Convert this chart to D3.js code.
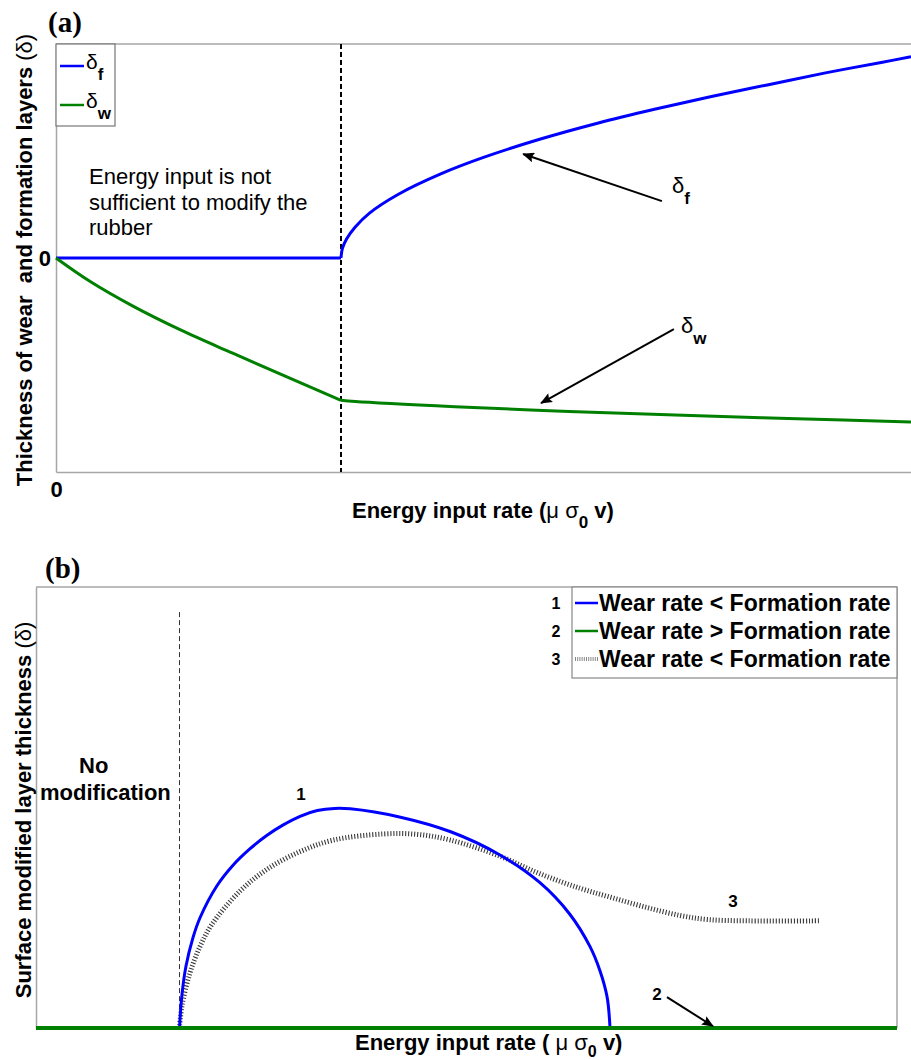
<!DOCTYPE html>
<html>
<head>
<meta charset="utf-8">
<script src="https://cdn.jsdelivr.net/npm/d3@7"></script>
<style>
  body { margin: 0; background: #fff; }
  text { font-family: Arial, "Liberation Sans", sans-serif; }
</style>
</head>
<body>
<div id="plot-container"></div>
<script>
// ---- data, panel (a) ----
const thresholdA = 1.0;
const flatX = [0, 1.0];
const flatY = [0, 0];
const formX = [1.0, 1.005, 1.02, 1.05, 1.1, 1.2, 1.35, 1.5, 1.7, 1.9, 2.1, 2.3, 2.5, 2.7, 2.9, 3.0];
const formY = [0, 0.045, 0.09, 0.145, 0.21, 0.297, 0.393, 0.47, 0.556, 0.63, 0.695, 0.755, 0.81, 0.865, 0.915, 0.94];
const wearX = [0, 0.12, 0.27, 0.435, 0.62, 0.8, 1.0];
const wearY = [0, -0.11, -0.225, -0.335, -0.445, -0.55, -0.665];
const wear2X = [1.0, 1.05, 1.4, 1.8, 2.2, 2.6, 3.0];
const wear2Y = [-0.665, -0.671, -0.695, -0.717, -0.735, -0.751, -0.766];

// ---- data, panel (b) ----
const thresholdB = 1.0;
const curve1X = [1.0, 1.017, 1.045, 1.094, 1.143, 1.26, 1.37, 1.49, 1.61, 1.72, 1.84, 1.96, 2.08, 2.19, 2.54, 2.89, 3.23, 3.51, 3.72, 3.86, 3.93, 3.98, 4.0];
const curve1Y = [0, 0.075, 0.14, 0.205, 0.25, 0.322, 0.368, 0.406, 0.437, 0.46, 0.48, 0.493, 0.498, 0.497, 0.478, 0.445, 0.393, 0.33, 0.258, 0.185, 0.13, 0.07, 0];
const curve2X = [0, 6];
const curve2Y = [0, 0];
const curve3X = [1.0, 1.017, 1.073, 1.143, 1.226, 1.42, 1.61, 1.84, 2.07, 2.42, 2.66, 2.89, 3.23, 3.51, 3.79, 4.02, 4.26, 4.49, 4.68, 4.96, 5.46];
const curve3Y = [0, 0.05, 0.125, 0.185, 0.235, 0.31, 0.36, 0.4, 0.426, 0.44, 0.439, 0.426, 0.39, 0.35, 0.317, 0.295, 0.273, 0.255, 0.246, 0.243, 0.243];
const legendB = ["Wear rate < Formation rate", "Wear rate > Formation rate", "Wear rate < Formation rate"];

const W = 911, H = 1060;
const BLUE = "#0000ff", GREEN = "#008000", FRAME = "#a6a6a6";
const SERIF = "'Times New Roman', 'Liberation Serif', serif";
const zip = (xs, ys) => xs.map((x, i) => [x, ys[i]]);

const svg = d3.select("#plot-container").append("svg")
  .attr("width", W).attr("height", H)
  .attr("viewBox", [0, 0, W, H]);

svg.append("defs").append("marker")
  .attr("id", "arrow")
  .attr("viewBox", "0 0 12 10")
  .attr("refX", 11).attr("refY", 5)
  .attr("markerWidth", 13).attr("markerHeight", 10)
  .attr("markerUnits", "userSpaceOnUse")
  .attr("orient", "auto")
  .append("path").attr("d", "M0,0 L12,5 L0,10 L2,5 Z").attr("fill", "#000");

// text with a bold subscript (delta_f, sigma_0 ...)
function subText(g, x, y, main, sub, size, subSize, weight) {
  const t = g.append("text").attr("x", x).attr("y", y)
    .attr("font-size", size).attr("font-weight", weight || "normal");
  t.append("tspan").text(main);
  t.append("tspan").attr("dy", size * 0.5).attr("font-size", subSize)
    .attr("font-weight", "bold").text(sub);
  return t;
}

const curve = d3.curveCatmullRom.alpha(0.5);

// =================== panel (a) ===================
const xa = d3.scaleLinear().domain([0, 3]).range([56, 911]);
const ya = d3.scaleLinear().domain([-1, 1]).range([472, 44]);
const ga = svg.append("g");

ga.append("line")
  .attr("x1", xa(0)).attr("x2", xa(3)).attr("y1", ya(1)).attr("y2", ya(1))
  .attr("stroke", FRAME).attr("stroke-width", 1.5);

const axLeftA = ga.append("g").attr("transform", `translate(${xa(0)},0)`)
  .call(d3.axisLeft(ya).tickValues([0]).tickSize(0).tickPadding(5).tickFormat(d3.format("d")));
const axBotA = ga.append("g").attr("transform", `translate(0,${ya(-1)})`)
  .call(d3.axisBottom(xa).tickValues([0]).tickSize(0).tickPadding(9).tickFormat(d3.format("d")));
[axLeftA, axBotA].forEach(a => {
  a.select(".domain").attr("stroke", FRAME).attr("stroke-width", 1.5);
  a.selectAll("text").attr("font-size", 22).attr("font-weight", "bold").attr("fill", "#000");
});

ga.append("line")
  .attr("x1", xa(thresholdA)).attr("x2", xa(thresholdA))
  .attr("y1", ya(1)).attr("y2", ya(-1))
  .attr("stroke", "#000").attr("stroke-width", 2).attr("stroke-dasharray", "5,3");

const lineA = d3.line().x(d => xa(d[0])).y(d => ya(d[1])).curve(curve);
[[flatX, flatY, BLUE], [formX, formY, BLUE], [wearX, wearY, GREEN], [wear2X, wear2Y, GREEN]]
  .forEach(([xs, ys, c]) => {
    ga.append("path").attr("d", lineA(zip(xs, ys)))
      .attr("fill", "none").attr("stroke", c).attr("stroke-width", 3)
      .attr("stroke-linejoin", "round");
  });

// legend (a)
ga.append("rect").attr("x", 56).attr("y", 44).attr("width", 59).attr("height", 82)
  .attr("fill", "#fff").attr("stroke", "#777").attr("stroke-width", 1.2);
[[BLUE, "f", 66], [GREEN, "w", 105]].forEach(([c, s, y]) => {
  ga.append("line").attr("x1", 60).attr("x2", 84).attr("y1", y).attr("y2", y)
    .attr("stroke", c).attr("stroke-width", 2.5);
  subText(ga, 86, y + 3, "δ", s, 21, 17);
});

// annotations (a)
const textA = ["Energy input is not", "sufficient to modify the", "rubber"];
textA.forEach((t, i) => {
  ga.append("text").attr("x", 89).attr("y", 184 + i * 25.5)
    .attr("font-size", 22).text(t);
});
ga.append("line")
  .attr("x1", xa(2.126)).attr("y1", ya(0.266)).attr("x2", xa(1.639)).attr("y2", ya(0.486))
  .attr("stroke", "#000").attr("stroke-width", 2).attr("marker-end", "url(#arrow)");
ga.append("line")
  .attr("x1", xa(2.168)).attr("y1", ya(-0.332)).attr("x2", xa(1.702)).attr("y2", ya(-0.678))
  .attr("stroke", "#000").attr("stroke-width", 2).attr("marker-end", "url(#arrow)");
subText(ga, 672, 193, "δ", "f", 22, 17);
subText(ga, 681, 333, "δ", "w", 22, 17);

ga.append("text").attr("x", 48).attr("y", 32)
  .style("font-family", SERIF)
  .attr("font-size", 29).attr("font-weight", "bold").text("(a)");

const yLabA = ga.append("text")
  .attr("transform", "translate(32,260) rotate(-90)")
  .attr("text-anchor", "middle").attr("font-size", 22).attr("font-weight", "bold");
yLabA.append("tspan").text("Thickness of wear \u00a0and formation layers ");
yLabA.append("tspan").attr("font-weight", "normal").text("(δ)");

const xLabA = ga.append("text").attr("x", 352).attr("y", 518)
  .attr("font-size", 22).attr("font-weight", "bold");
xLabA.append("tspan").text("Energy input rate (");
xLabA.append("tspan").attr("font-weight", "normal").text("μ σ");
xLabA.append("tspan").attr("dy", 10).attr("font-size", 17).text("0");
xLabA.append("tspan").attr("dy", -10).text(" v)");

// =================== panel (b) ===================
const xb = d3.scaleLinear().domain([0, 6]).range([36, 897]);
const yb = d3.scaleLinear().domain([0, 1]).range([1028, 587]);
const gb = svg.append("g");

gb.append("line")
  .attr("x1", xb(0)).attr("x2", xb(6)).attr("y1", yb(1)).attr("y2", yb(1))
  .attr("stroke", FRAME).attr("stroke-width", 1.5);
gb.append("line")
  .attr("x1", xb(6)).attr("x2", xb(6)).attr("y1", yb(1)).attr("y2", yb(0))
  .attr("stroke", FRAME).attr("stroke-width", 1.5);
const axLeftB = gb.append("g").attr("transform", `translate(${xb(0)},0)`)
  .call(d3.axisLeft(yb).tickValues([]).tickSizeOuter(0));
axLeftB.select(".domain").attr("stroke", FRAME).attr("stroke-width", 1.5);

gb.append("line")
  .attr("x1", xb(thresholdB)).attr("x2", xb(thresholdB))
  .attr("y1", yb(0.943)).attr("y2", yb(0))
  .attr("stroke", "#333").attr("stroke-width", 1).attr("stroke-dasharray", "5,3");

const lineB = d3.line().x(d => xb(d[0])).y(d => yb(d[1])).curve(curve);
gb.append("path").attr("d", lineB(zip(curve3X, curve3Y)))
  .attr("fill", "none").attr("stroke", "#3a3a3a").attr("stroke-width", 5)
  .attr("stroke-dasharray", "1.1,1.9");
gb.append("path").attr("d", lineB(zip(curve1X, curve1Y)))
  .attr("fill", "none").attr("stroke", BLUE).attr("stroke-width", 3);
gb.append("path").attr("d", lineB(zip(curve2X, curve2Y)))
  .attr("fill", "none").attr("stroke", GREEN).attr("stroke-width", 4);

// curve number labels
gb.append("text").attr("x", xb(1.847)).attr("y", yb(0.517)).attr("text-anchor", "middle")
  .attr("font-size", 17).attr("font-weight", "bold").text("1");
gb.append("text").attr("x", xb(4.857)).attr("y", yb(0.274)).attr("text-anchor", "middle")
  .attr("font-size", 17).attr("font-weight", "bold").text("3");
gb.append("text").attr("x", xb(4.328)).attr("y", yb(0.063)).attr("text-anchor", "middle")
  .attr("font-size", 17).attr("font-weight", "bold").text("2");
gb.append("line")
  .attr("x1", xb(4.397)).attr("y1", yb(0.07)).attr("x2", xb(4.718)).attr("y2", yb(0.004))
  .attr("stroke", "#000").attr("stroke-width", 2).attr("marker-end", "url(#arrow)");

gb.append("text").attr("x", 79).attr("y", 773).attr("font-size", 22).attr("font-weight", "bold").text("No");
gb.append("text").attr("x", 40).attr("y", 800).attr("font-size", 22).attr("font-weight", "bold").text("modification");

// legend (b)
gb.append("rect").attr("x", 572).attr("y", 587).attr("width", 325).attr("height", 91)
  .attr("fill", "#fff").attr("stroke", "#888").attr("stroke-width", 1.2);
const legStyles = [
  { stroke: BLUE, width: 2.5, dash: null },
  { stroke: GREEN, width: 2.5, dash: null },
  { stroke: "#888", width: 4, dash: "1,1.2" }
];
legendB.forEach((t, i) => {
  const y = 603 + i * 28;
  gb.append("text").attr("x", 556).attr("y", y + 6).attr("text-anchor", "middle")
    .attr("font-size", 16).attr("font-weight", "bold").text(i + 1);
  gb.append("line").attr("x1", 575).attr("x2", 598).attr("y1", y).attr("y2", y)
    .attr("stroke", legStyles[i].stroke).attr("stroke-width", legStyles[i].width)
    .attr("stroke-dasharray", legStyles[i].dash);
  gb.append("text").attr("x", 599).attr("y", y + 8)
    .attr("font-size", 23).attr("font-weight", "bold").text(t);
});

gb.append("text").attr("x", 45).attr("y", 578)
  .style("font-family", SERIF)
  .attr("font-size", 29).attr("font-weight", "bold").text("(b)");

const yLabB = gb.append("text")
  .attr("transform", "translate(31,810) rotate(-90)")
  .attr("text-anchor", "middle").attr("font-size", 22).attr("font-weight", "bold");
yLabB.append("tspan").text("Surface modified layer thickness ");
yLabB.append("tspan").attr("font-weight", "normal").text("(δ)");

const xLabB = gb.append("text").attr("x", 355).attr("y", 1050)
  .attr("font-size", 22).attr("font-weight", "bold");
xLabB.append("tspan").text("Energy input rate ( ");
xLabB.append("tspan").attr("font-weight", "normal").text("μ σ");
xLabB.append("tspan").attr("dy", 7).attr("font-size", 16).text("0");
xLabB.append("tspan").attr("dy", -7).text(" v)");
</script>
</body>
</html>
